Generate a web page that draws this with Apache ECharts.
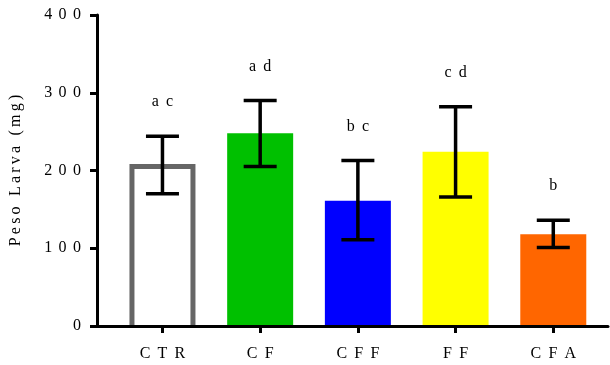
<!DOCTYPE html>
<html>
<head>
<meta charset="utf-8">
<script src="https://cdn.jsdelivr.net/npm/echarts@6/dist/echarts.min.js"></script>
<style>html,body{margin:0;padding:0;background:#fff}#c{width:610px;height:365px}</style>
</head>
<body>
<div id="c"></div>
<script>
var categories = ['CTR', 'CF', 'CFF', 'FF', 'CFA'];
var means = [205, 248, 161, 224, 118];
var errLow = [170, 205, 111, 166, 101];
var errHigh = [244, 290, 213, 282, 136];
var letters = ['ac', 'ad', 'bc', 'cd', 'b'];
var yTicks = [0, 100, 200, 300, 400];
var yTitle = 'Peso Larva (mg)';

var barColors = ['#ffffff', '#00c000', '#0000ff', '#ffff00', '#ff6600'];
function spaced(s, sp) { return String(s).split('').join(sp); }
var FONT = '"Liberation Serif", "Times New Roman", serif';

var chart = echarts.init(document.getElementById('c'), null, {renderer: 'canvas'});
var idx = categories.map(function (c, i) { return i; });

chart.setOption({
  animation: false,
  backgroundColor: '#fff',
  grid: {left: 93, right: 2, top: 15, bottom: 39, containLabel: false},
  xAxis: {
    type: 'value', min: -0.67, max: 4.56, z: 10,
    axisLine: {show: true, onZero: false, lineStyle: {color: '#000', width: 3}},
    axisTick: {show: true, customValues: idx, length: 7, lineStyle: {color: '#000', width: 3}},
    axisLabel: {show: true, customValues: idx, margin: 20, fontFamily: FONT, fontSize: 16, color: '#000',
      formatter: function (v) { return spaced(categories[Math.round(v)], '\u2005\u2009'); }},
    splitLine: {show: false}
  },
  yAxis: {
    type: 'value', min: yTicks[0], max: yTicks[yTicks.length - 1], interval: 100, z: 10,
    name: spaced(yTitle, '\u2009'), nameLocation: 'middle', nameGap: 73,
    nameTextStyle: {fontFamily: FONT, fontSize: 16, color: '#000'},
    axisLine: {show: true, onZero: false, lineStyle: {color: '#000', width: 3}},
    axisTick: {show: true, length: 7, lineStyle: {color: '#000', width: 3}},
    axisLabel: {margin: 16, fontFamily: FONT, fontSize: 16, color: '#000',
      formatter: function (v) { return spaced(v, '\u2009\u2009'); }},
    splitLine: {show: false}
  },
  series: [
    {
      type: 'custom', z: 2,
      data: idx.map(function (i) { return [i, means[i]]; }),
      renderItem: function (params, api) {
        var i = params.dataIndex;
        var base = api.coord([api.value(0), 0]);
        var top = api.coord([api.value(0), api.value(1)])[1];
        var x = base[0], bottom = base[1];
        if (i === 0) {
          return {
            type: 'group',
            children: [
              {type: 'rect', shape: {x: x - 30.5, y: top, width: 61, height: bottom - top}, style: {fill: barColors[0]}},
              {type: 'polyline', shape: {points: [[x - 30.5, bottom], [x - 30.5, top], [x + 30.5, top], [x + 30.5, bottom]]},
                style: {stroke: '#666666', lineWidth: 5, fill: null, lineJoin: 'miter'}}
            ]
          };
        }
        return {type: 'rect', shape: {x: x - 33, y: top, width: 66, height: bottom - top}, style: {fill: barColors[i]}};
      }
    },
    {
      type: 'custom', z: 20,
      data: idx.map(function (i) { return [i, errLow[i], errHigh[i]]; }),
      renderItem: function (params, api) {
        var x = api.coord([api.value(0), 0])[0];
        var lo = api.coord([api.value(0), api.value(1)])[1];
        var hi = api.coord([api.value(0), api.value(2)])[1];
        var half = 16.5;
        var ls = {stroke: '#000', lineWidth: 3.5};
        var i = params.dataIndex;
        return {
          type: 'group',
          children: [
            {type: 'line', shape: {x1: x, y1: lo, x2: x, y2: hi}, style: ls},
            {type: 'line', shape: {x1: x - half, y1: hi, x2: x + half, y2: hi}, style: ls},
            {type: 'line', shape: {x1: x - half, y1: lo, x2: x + half, y2: lo}, style: ls},
            {type: 'text', style: {text: spaced(letters[i], '\u2005\u2009'), x: x, y: hi - 34, textAlign: 'center', textVerticalAlign: 'middle',
              font: '16px ' + FONT, fill: '#000'}}
          ]
        };
      }
    }
  ]
});
</script>
</body>
</html>
